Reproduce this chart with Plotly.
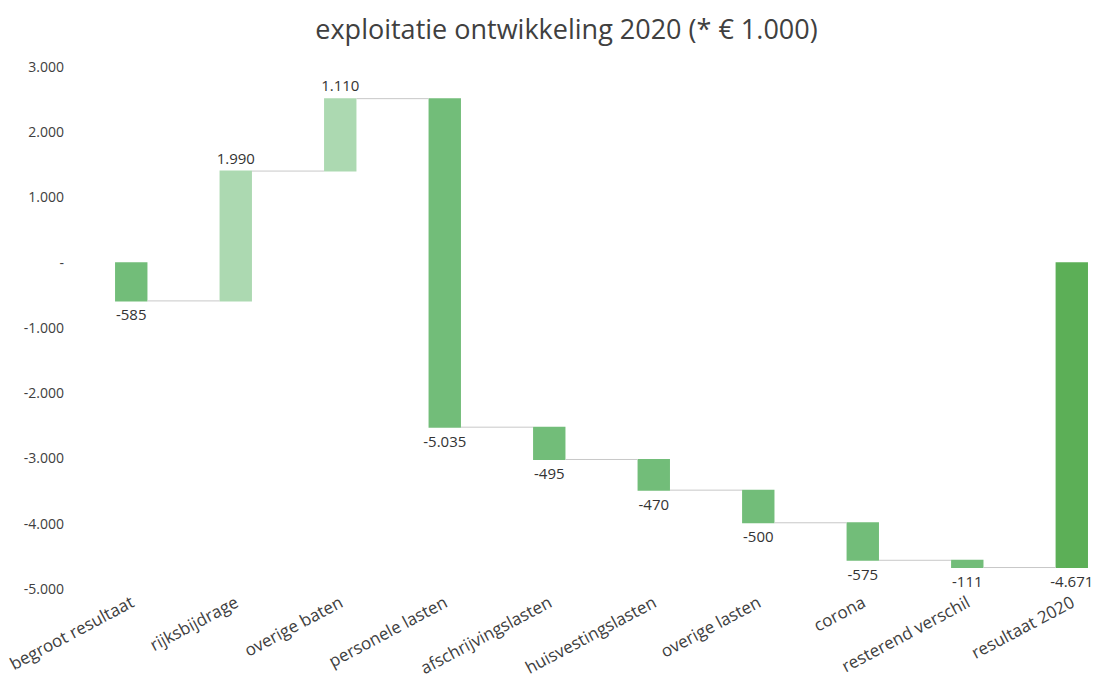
import plotly.graph_objects as go

categories = ["begroot resultaat", "rijksbijdrage", "overige baten", "personele lasten",
              "afschrijvingslasten", "huisvestingslasten", "overige lasten", "corona",
              "resterend verschil", "resultaat 2020"]
values = [-585, 1990, 1110, -5035, -495, -470, -500, -575, -111, -4671]
measures = ["relative"] * 9 + ["total"]
label_text = [f"{v:,}".replace(",", ".") for v in values]

y_tickvals = [3000, 2000, 1000, 0, -1000, -2000, -3000, -4000, -5000]
y_ticktext = ["3.000", "2.000", "1.000", "-", "-1.000", "-2.000", "-3.000", "-4.000", "-5.000"]

FONT = "Open Sans"

fig = go.Figure(go.Waterfall(
    x=categories,
    y=values,
    measure=measures,
    text=label_text,
    textposition="outside",
    constraintext="none",
    textfont=dict(family=FONT, size=15, color="#333333"),
    width=0.31,
    increasing=dict(marker=dict(color="#acd9b1")),
    decreasing=dict(marker=dict(color="#72bd79")),
    totals=dict(marker=dict(color="#5caf57")),
    connector=dict(line=dict(color="#c8c8c8", width=1)),
    cliponaxis=False,
    hoverinfo="skip",
))

fig.update_layout(
    width=1100, height=689,
    margin=dict(l=79, r=0, t=67, b=100),
    paper_bgcolor="white", plot_bgcolor="white",
    showlegend=False,
    title=dict(text="exploitatie ontwikkeling 2020 (* € 1.000)",
               x=0.515, xanchor="center", y=0.957, yanchor="middle",
               font=dict(family=FONT, size=27, color="#404040")),
    xaxis=dict(type="category", range=[-0.5, 9.27], showgrid=False, zeroline=False,
               showline=False, ticks="", tickangle=-28,
               tickfont=dict(family=FONT, size=17, color="#404040")),
    yaxis=dict(range=[-5000, 3000], tickvals=y_tickvals, ticktext=y_ticktext,
               showgrid=False, zeroline=False, showline=False, ticks="",
               ticklabelstandoff=14,
               tickfont=dict(family=FONT, size=14, color="#404040")),
)

fig.write_html("out.html")
